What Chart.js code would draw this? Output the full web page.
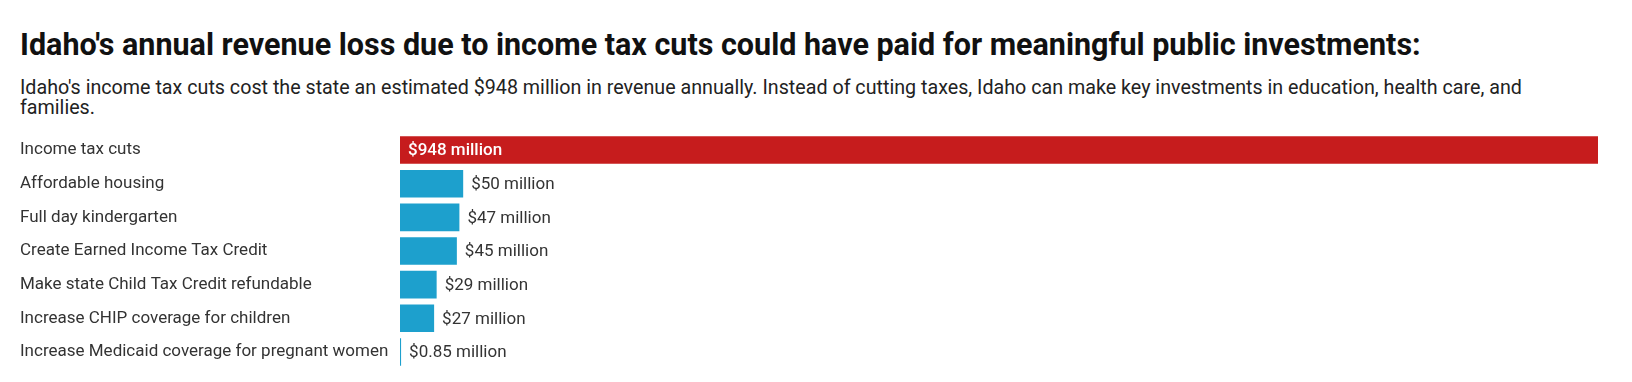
<!DOCTYPE html>
<html>
<head>
<meta charset="utf-8">
<script src="https://cdn.jsdelivr.net/npm/chart.js@4"></script>
<style>
  html, body { margin: 0; padding: 0; background: #fff; width: 1632px; height: 382px; overflow: hidden; }
  #title { position: absolute; left: 20px; top: 27px; font-family: Roboto, sans-serif; font-weight: 700; font-size: 30.5px; line-height: 36px; color: #111; white-space: nowrap; }
  #sub { position: absolute; left: 20px; top: 78px; font-family: Roboto, sans-serif; font-size: 19.7px; line-height: 20px; color: #222; white-space: nowrap; }
  #c { position: absolute; left: 0; top: 123px; }
</style>
</head>
<body>
<div id="title">Idaho's annual revenue loss due to income tax cuts could have paid for meaningful public investments:</div>
<div id="sub">Idaho's income tax cuts cost the state an estimated $948 million in revenue annually. Instead of cutting taxes, Idaho can make key investments in education, health care, and<br>families.</div>
<canvas id="c" width="1632" height="256" style="width:1632px;height:256px"></canvas>
<script>
const categories = [
  "Income tax cuts",
  "Affordable housing",
  "Full day kindergarten",
  "Create Earned Income Tax Credit",
  "Make state Child Tax Credit refundable",
  "Increase CHIP coverage for children",
  "Increase Medicaid coverage for pregnant women"
];
const values = [948, 50, 47, 45, 29, 27, 0.85];
const valueLabels = ["$948 million", "$50 million", "$47 million", "$45 million", "$29 million", "$27 million", "$0.85 million"];
const barColors = ["#c61c1d", "#1da0cd", "#1da0cd", "#1da0cd", "#1da0cd", "#1da0cd", "#1da0cd"];

const valueLabelPlugin = {
  id: 'valueLabels',
  afterDatasetsDraw(chart) {
    const ctx = chart.ctx;
    const meta = chart.getDatasetMeta(0);
    ctx.save();
    ctx.textBaseline = 'middle';
    meta.data.forEach((bar, i) => {
      const inside = i === 0;
      ctx.font = (inside ? '500 ' : '400 ') + '17px Roboto, sans-serif';
      ctx.fillStyle = inside ? '#ffffff' : '#333333';
      ctx.textAlign = 'left';
      const x = inside ? bar.base + 8 : bar.x + 8;
      ctx.fillText(valueLabels[i], x, bar.y + 1);
    });
    ctx.restore();
  }
};

new Chart(document.getElementById('c'), {
  type: 'bar',
  data: {
    labels: categories,
    datasets: [{
      data: values,
      backgroundColor: barColors,
      borderWidth: 0,
      barPercentage: 0.82,
      categoryPercentage: 1.0
    }]
  },
  options: {
    indexAxis: 'y',
    responsive: false,
    animation: false,
    layout: { padding: { left: 20, right: 34, top: 0, bottom: 0 } },
    plugins: { legend: { display: false }, tooltip: { enabled: false } },
    scales: {
      x: { display: false, min: 0, max: 948 },
      y: {
        grid: { display: false, drawTicks: false },
        border: { display: false },
        ticks: {
          crossAlign: 'far',
          color: '#333',
          font: { family: 'Roboto, sans-serif', size: 17 },
          padding: 0
        },
        afterFit(scale) { scale.width = 380; }
      }
    }
  },
  plugins: [valueLabelPlugin]
});
</script>
</body>
</html>
